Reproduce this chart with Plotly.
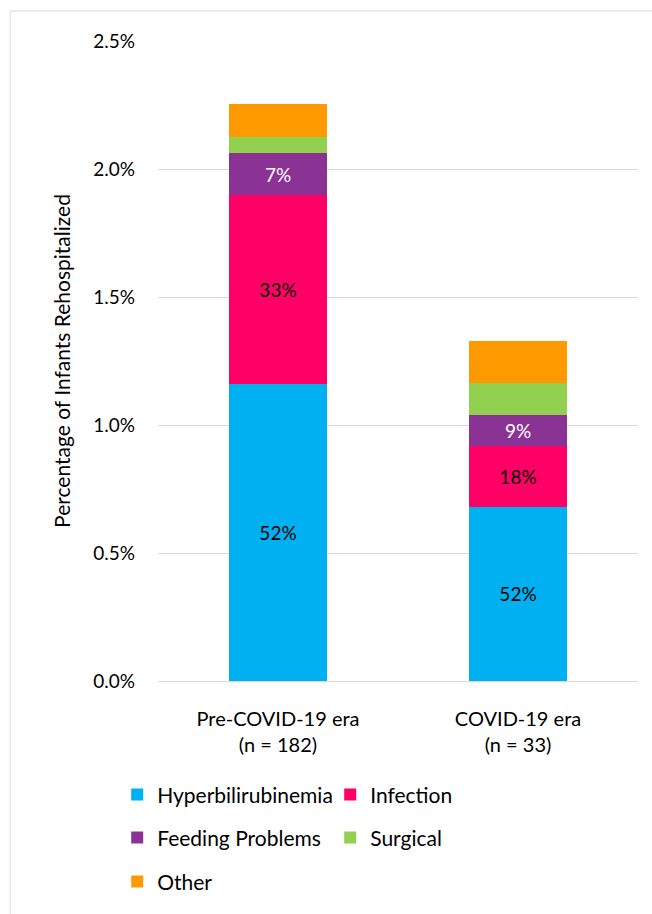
import plotly.graph_objects as go

categories = ["Pre-COVID-19 era<br>(n = 182)", "COVID-19 era<br>(n = 33)"]
series_names = ["Hyperbilirubinemia", "Infection", "Feeding Problems", "Surgical", "Other"]
hyper = [1.16, 0.68]
infection = [0.738, 0.238]
feeding = [0.164, 0.121]
surgical = [0.0625, 0.125]
other = [0.129, 0.164]
hyper_labels = ["52%", "52%"]
infection_labels = ["33%", "18%"]
feeding_labels = ["7%", "9%"]

colors = ["#00B0F0", "#FF0066", "#8B3395", "#92D050", "#FF9900"]
values = [hyper, infection, feeding, surgical, other]
labels = [hyper_labels, infection_labels, feeding_labels, None, None]
text_colors = ["black", "black", "white", None, None]
legend_ids = ["legend", "legend", "legend2", "legend2", "legend3"]

FONT = "Lato"
fig = go.Figure()
for name, vals, col, lab, tcol, lg in zip(series_names, values, colors, labels, text_colors, legend_ids):
    kw = {}
    if lab is not None:
        kw = dict(text=lab, textposition="inside", insidetextanchor="middle",
                  textangle=0, textfont=dict(color=tcol, size=19, family=FONT))
    fig.add_trace(go.Bar(x=categories, y=vals, name=name, marker=dict(color=col, line=dict(width=0)),
                         hoverinfo="skip", legend=lg, **kw))

def leg(y):
    return dict(orientation="h", x=-0.085, xanchor="left", y=y, yanchor="middle",
                entrywidth=168, entrywidthmode="pixels", font=dict(size=21, family=FONT),
                traceorder="normal", itemclick=False, bgcolor="rgba(0,0,0,0)")

fig.update_layout(
    barmode="stack",
    bargap=0.59,
    width=652, height=914,
    margin=dict(l=158, r=14, t=41, b=233),
    paper_bgcolor="white", plot_bgcolor="white",
    font=dict(family=FONT, size=20, color="black"),
    uniformtext=dict(minsize=10, mode="show"),
    showlegend=True,
    legend=leg(-0.178),
    legend2=leg(-0.245),
    legend3=leg(-0.314),
    yaxis=dict(range=[0, 2.5], dtick=0.5, tickformat=".1f", ticksuffix="%",
               gridcolor="#D9D9D9", gridwidth=1, zeroline=False, showline=False,
               ticklabelstandoff=22, tickfont=dict(size=19),
               title=dict(text="Percentage of Infants Rehospitalized", font=dict(size=21), standoff=16)),
    xaxis=dict(showline=True, linecolor="#D9D9D9", linewidth=1, tickfont=dict(size=20),
               ticklabelstandoff=20),
    shapes=[dict(type="rect", xref="paper", yref="paper", x0=-0.308, x1=1.1, y0=-0.6, y1=1.047,
                 line=dict(color="#D9D9D9", width=1), fillcolor="rgba(0,0,0,0)", layer="below")],
)

fig.write_html("out.html")
